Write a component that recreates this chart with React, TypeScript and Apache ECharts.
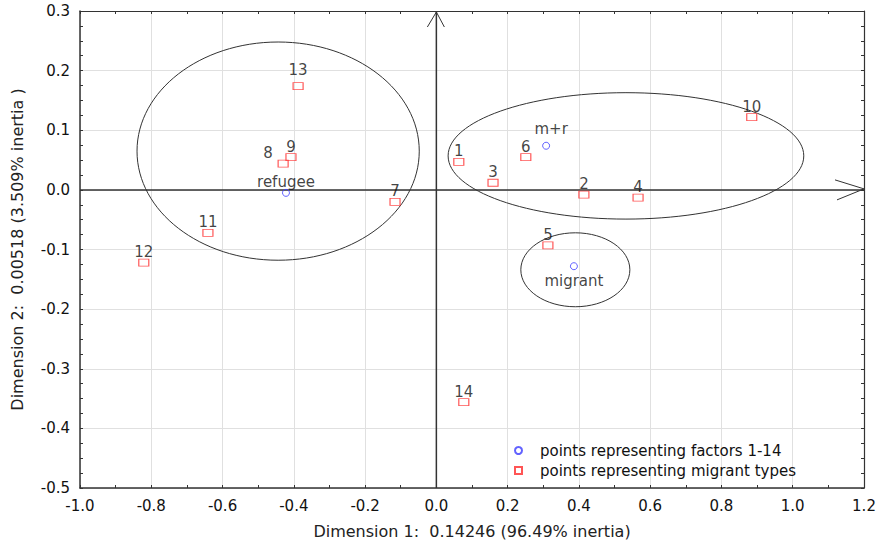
import React, { useEffect, useRef } from 'react';
import * as echarts from 'echarts';

// Axis ranges
const xMin = -1.0;
const xMax = 1.2;
const xStep = 0.2;
const yMin = -0.5;
const yMax = 0.3;
const yStep = 0.1;

const xAxisTitle = 'Dimension 1:  0.14246 (96.49% inertia)';
const yAxisTitle = 'Dimension 2:  0.00518 (3.509% inertia )';

// Red squares: migrant types 1..14
const migrantTypeLabels = ['1', '2', '3', '4', '5', '6', '7', '8', '9', '10', '11', '12', '13', '14'];
const migrantTypeDim1 = [0.063, 0.414, 0.159, 0.566, 0.313, 0.251, -0.116, -0.43, -0.408, 0.885, -0.641, -0.821, -0.388, 0.077];
const migrantTypeDim2 = [0.047, -0.008, 0.012, -0.013, -0.093, 0.055, -0.02, 0.044, 0.055, 0.122, -0.072, -0.122, 0.174, -0.356];

// Blue circles: factors
const factorLabels = ['refugee', 'm+r', 'migrant'];
const factorDim1 = [-0.422, 0.308, 0.386];
const factorDim2 = [-0.005, 0.074, -0.128];

// Grouping ellipses (centre and radii in data units)
const ellipseCx = [-0.444, 0.532, 0.39];
const ellipseCy = [0.065, 0.057, -0.134];
const ellipseRx = [0.396, 0.499, 0.153];
const ellipseRy = [0.183, 0.106, 0.062];

const seriesFactors = 'points representing factors 1-14';
const seriesTypes = 'points representing migrant types';

const FONT = 'DejaVu Sans';

const labelOverrides: Record<string, any> = {
  '8': { offset: [-15, 0] },
  '13': { distance: 5 },
  'm+r': { distance: 5, offset: [5, 0] },
  migrant: { position: 'bottom', distance: 3 },
};

export default function App() {
  const ref = useRef<HTMLDivElement>(null);

  useEffect(() => {
    if (!ref.current) return;
    const chart = echarts.init(ref.current, null, { renderer: 'svg' });

    const fmt = (v: number) => v.toFixed(1);
    const frameColor = '#333';

    const baseX = {
      type: 'value' as const,
      min: xMin,
      max: xMax,
      interval: xStep,
    };
    const baseY = {
      type: 'value' as const,
      min: yMin,
      max: yMax,
      interval: yStep,
    };

    const option: any = {
      animation: false,
      backgroundColor: '#fff',
      grid: { left: 80, top: 11, right: 18, bottom: 52, containLabel: false, outerBoundsMode: 'none' },
      legend: {
        data: [
          { name: seriesFactors, icon: 'circle' },
          { name: seriesTypes, icon: 'rect' },
        ],
        orient: 'vertical',
        left: 509,
        top: 438,
        itemWidth: 7,
        itemHeight: 7,
        itemGap: 5,
        selectedMode: false,
        textStyle: { fontSize: 15, color: '#111', fontFamily: FONT, padding: [0, 0, 0, 13] },
      },
      xAxis: [
        {
          ...baseX,
          position: 'bottom',
          name: xAxisTitle,
          nameLocation: 'middle',
          nameGap: 35,
          nameTextStyle: { fontSize: 16, color: '#222', fontFamily: FONT },
          axisLine: { show: true, onZero: false, lineStyle: { color: frameColor, width: 1.5 } },
          axisTick: { show: true, inside: true, length: 3, lineStyle: { color: frameColor } },
          minorTick: { show: true, splitNumber: 2, length: 3, lineStyle: { color: frameColor } },
          axisLabel: { formatter: fmt, fontSize: 15, color: '#111', margin: 10, fontFamily: FONT },
          splitLine: { show: true, lineStyle: { color: '#e0e0e0', width: 1 } },
        },
        {
          ...baseX,
          position: 'top',
          axisLine: { show: true, onZero: false, lineStyle: { color: frameColor, width: 1.2 } },
          axisTick: { show: true, inside: true, length: 3, lineStyle: { color: frameColor } },
          minorTick: { show: true, splitNumber: 2, length: 3, lineStyle: { color: frameColor } },
          axisLabel: { show: false },
          splitLine: { show: false },
        },
      ],
      yAxis: [
        {
          ...baseY,
          position: 'left',
          name: yAxisTitle,
          nameLocation: 'middle',
          nameGap: 55,
          nameTextStyle: { fontSize: 16, color: '#222', fontFamily: FONT },
          axisLine: { show: true, onZero: false, lineStyle: { color: frameColor, width: 1.5 } },
          axisTick: { show: true, inside: true, length: 3, lineStyle: { color: frameColor } },
          minorTick: { show: true, splitNumber: 4, length: 3, lineStyle: { color: frameColor } },
          axisLabel: { formatter: fmt, fontSize: 15, color: '#111', margin: 10, fontFamily: FONT },
          splitLine: { show: true, lineStyle: { color: '#e0e0e0', width: 1 } },
        },
        {
          ...baseY,
          position: 'right',
          axisLine: { show: true, onZero: false, lineStyle: { color: frameColor, width: 1.2 } },
          axisTick: { show: true, inside: true, length: 3, lineStyle: { color: frameColor } },
          minorTick: { show: true, splitNumber: 4, length: 3, lineStyle: { color: frameColor } },
          axisLabel: { show: false },
          splitLine: { show: false },
        },
      ],
      series: [
        {
          type: 'custom',
          name: 'ellipses',
          silent: true,
          xAxisIndex: 0,
          yAxisIndex: 0,
          z: 1,
          encode: { x: 0, y: 1 },
          data: ellipseCx.map((cx, i) => [cx, ellipseCy[i], ellipseRx[i], ellipseRy[i]]),
          renderItem: (_params: any, api: any) => {
            const c = api.coord([api.value(0), api.value(1)]);
            const s = api.size([api.value(2), api.value(3)]);
            return {
              type: 'ellipse',
              shape: { cx: c[0], cy: c[1], rx: s[0], ry: s[1] },
              style: { fill: 'none', stroke: '#333', lineWidth: 1 },
            };
          },
        },
        {
          type: 'custom',
          name: 'zero axes',
          silent: true,
          xAxisIndex: 0,
          yAxisIndex: 0,
          z: 2,
          encode: { x: 0, y: 1 },
          data: [[0, 0]],
          renderItem: (_params: any, api: any) => {
            const vb = api.coord([0, yMin]);
            const vt = api.coord([0, yMax]);
            const hl = api.coord([xMin, 0]);
            const hr = api.coord([xMax, 0]);
            const st = { stroke: '#333', lineWidth: 1.5, fill: 'none' };
            const st2 = { stroke: '#333', lineWidth: 1, fill: 'none' };
            return {
              type: 'group',
              children: [
                { type: 'line', shape: { x1: vb[0], y1: vb[1], x2: vt[0], y2: vt[1] + 1 }, style: st },
                { type: 'line', shape: { x1: hl[0], y1: hl[1], x2: hr[0], y2: hr[1] }, style: st },
                {
                  type: 'polyline',
                  shape: { points: [[vt[0] - 9, vt[1] + 16], [vt[0], vt[1] + 1], [vt[0] + 8, vt[1] + 16]] },
                  style: st2,
                },
                {
                  type: 'polyline',
                  shape: { points: [[hr[0] - 29, hr[1] - 10], [hr[0], hr[1] - 1], [hr[0] - 27, hr[1] + 10]] },
                  style: st2,
                },
              ],
            };
          },
        },
        {
          type: 'scatter',
          name: seriesFactors,
          xAxisIndex: 0,
          yAxisIndex: 0,
          z: 4,
          symbol: 'circle',
          symbolSize: 7,
          itemStyle: { color: 'rgba(255,255,255,0)', borderColor: '#3b3bff', borderWidth: 1 },
          label: {
            show: true,
            position: 'top',
            distance: -1,
            formatter: (p: any) => p.name,
            fontSize: 15,
            color: '#111',
            fontFamily: FONT,
          },
          data: factorLabels.map((n, i) => ({
            name: n,
            value: [factorDim1[i], factorDim2[i]],
            ...(labelOverrides[n] ? { label: labelOverrides[n] } : {}),
          })),
        },
        {
          type: 'scatter',
          name: seriesTypes,
          xAxisIndex: 0,
          yAxisIndex: 0,
          z: 3,
          symbol: 'rect',
          symbolSize: [10, 7],
          itemStyle: { color: 'rgba(255,255,255,0)', borderColor: '#ff2a2a', borderWidth: 1 },
          label: {
            show: true,
            position: 'top',
            distance: -1,
            formatter: (p: any) => p.name,
            fontSize: 15,
            color: '#111',
            fontFamily: FONT,
          },
          data: migrantTypeLabels.map((n, i) => ({
            name: n,
            value: [migrantTypeDim1[i], migrantTypeDim2[i]],
            ...(labelOverrides[n] ? { label: labelOverrides[n] } : {}),
          })),
        },
      ],
    };

    chart.setOption(option);
    return () => chart.dispose();
  }, []);

  return (
    <div
      ref={ref}
      style={{ position: 'fixed', left: 0, top: 0, width: 882, height: 540, background: '#fff' }}
    />
  );
}
